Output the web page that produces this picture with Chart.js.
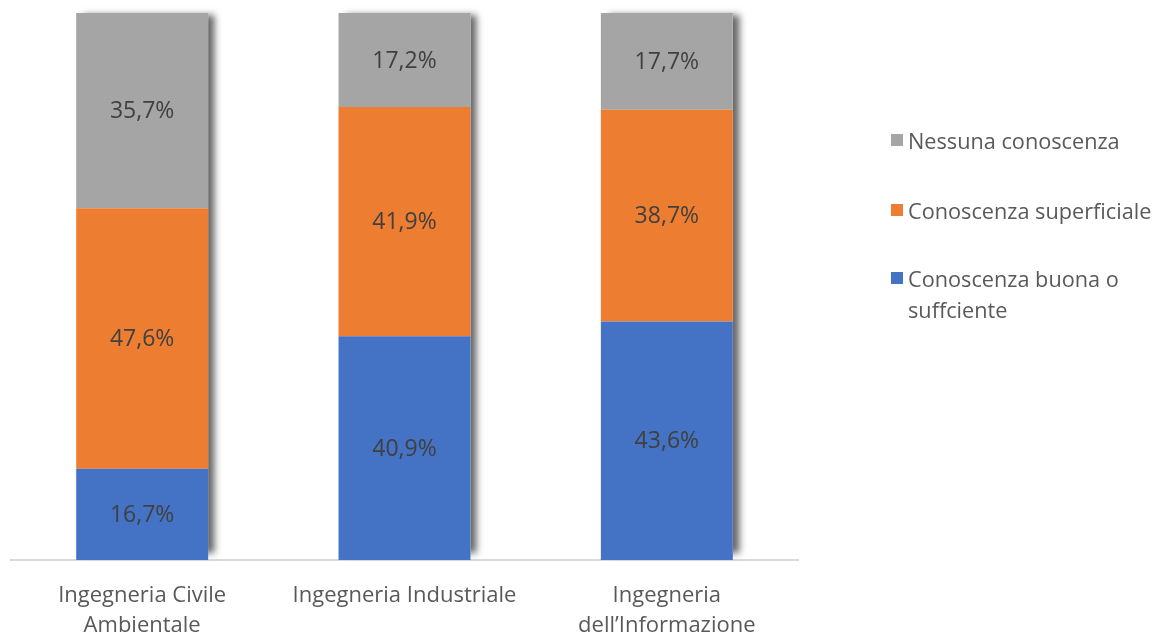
<!DOCTYPE html>
<html>
<head>
<meta charset="utf-8">
<script src="https://cdn.jsdelivr.net/npm/chart.js@4/dist/chart.umd.min.js"></script>
<style>
  html, body { margin: 0; padding: 0; background: #fff; }
  #wrap { position: relative; width: 1157px; height: 634px; overflow: hidden; }
  #legend { position: absolute; left: 891px; top: 0; font-family: "Open Sans", sans-serif; font-size: 21.7px; color: #595959; }
  .item { position: absolute; left: 0; white-space: nowrap; line-height: 31px; }
  .box { position: absolute; left: 0; width: 12px; height: 12px; }
  .txt { position: absolute; left: 17px; }
</style>
</head>
<body>
<div id="wrap">
  <canvas id="chart" width="1157" height="634"></canvas>
  <div id="legend"></div>
</div>
<script>
var categories = [['Ingegneria Civile', 'Ambientale'], 'Ingegneria Industriale', ['Ingegneria', 'dell\u2019Informazione']];
var buona = [16.7, 40.9, 43.6];
var superficiale = [47.6, 41.9, 38.7];
var nessuna = [35.7, 17.2, 17.7];
var seriesNames = [['Conoscenza buona o', 'suffciente'], 'Conoscenza superficiale', 'Nessuna conoscenza'];
var colors = ['#4472c4', '#ed7d31', '#a5a5a5'];
var legendRows = [278, 210, 140];

// shadow drawn behind each full stacked bar
var barShadow = {
    id: 'barShadow',
    beforeDatasetsDraw: function (chart) {
        var ctx = chart.ctx;
        var metas = chart.getSortedVisibleDatasetMetas();
        var n = chart.data.labels.length;
        for (var i = 0; i < n; i++) {
            var top = Infinity, bottom = -Infinity, left = 0, w = 0;
            metas.forEach(function (m) {
                var el = m.data[i];
                top = Math.min(top, el.y, el.base);
                bottom = Math.max(bottom, el.y, el.base);
                left = el.x - el.width / 2;
                w = el.width;
            });
            ctx.save();
            ctx.shadowColor = 'rgba(0,0,0,0.6)';
            ctx.shadowBlur = 7;
            ctx.shadowOffsetX = 7;
            ctx.shadowOffsetY = 0;
            ctx.fillStyle = '#fff';
            ctx.fillRect(left, top + 2, w, bottom - top - 9);
            ctx.restore();
        }
    }
};

var barLabels = {
    id: 'barLabels',
    afterDatasetsDraw: function (chart) {
        var ctx = chart.ctx;
        ctx.save();
        ctx.font = '23px "Open Sans", sans-serif';
        ctx.fillStyle = '#404040';
        ctx.textAlign = 'center';
        ctx.textBaseline = 'middle';
        chart.data.datasets.forEach(function (ds, di) {
            var meta = chart.getDatasetMeta(di);
            meta.data.forEach(function (el, i) {
                var p = el.getCenterPoint();
                ctx.fillText(ds.data[i].toFixed(1).replace('.', ',') + '%', p.x, p.y + 1);
            });
        });
        ctx.restore();
    }
};

var ctx = document.getElementById('chart').getContext('2d');
var myChart = new Chart(ctx, {
    type: 'bar',
    data: {
        labels: categories,
        datasets: [
            { label: seriesNames[0], data: buona, backgroundColor: colors[0] },
            { label: seriesNames[1], data: superficiale, backgroundColor: colors[1] },
            { label: seriesNames[2], data: nessuna, backgroundColor: colors[2] }
        ]
    },
    options: {
        responsive: false,
        animation: false,
        layout: { padding: { top: 13, left: 11, right: 359, bottom: 0 } },
        datasets: { bar: { categoryPercentage: 1, barPercentage: 0.503 } },
        scales: {
            x: {
                stacked: true,
                grid: { display: false, drawTicks: false },
                border: { display: true, color: '#d9d9d9', width: 2 },
                ticks: {
                    padding: 21,
                    color: '#595959',
                    font: { family: '"Open Sans", sans-serif', size: 22, lineHeight: 30 / 22 }
                },
                afterFit: function (scale) { scale.height = 74; }
            },
            y: {
                stacked: true,
                display: false,
                min: 0,
                max: 100
            }
        },
        plugins: {
            legend: { display: false },
            tooltip: { enabled: false }
        }
    },
    plugins: [barShadow, barLabels]
});

// legend, in reverse dataset order as in the original
var legend = document.getElementById('legend');
myChart.data.datasets.forEach(function (ds, i) {
    var lines = Array.isArray(ds.label) ? ds.label : [ds.label];
    var item = document.createElement('div');
    item.className = 'item';
    item.style.top = (legendRows[i] - 15.5) + 'px';
    var box = document.createElement('div');
    box.className = 'box';
    box.style.top = '9.5px';
    box.style.background = ds.backgroundColor;
    var txt = document.createElement('div');
    txt.className = 'txt';
    txt.innerHTML = lines.join('<br>');
    item.appendChild(box);
    item.appendChild(txt);
    legend.appendChild(item);
});
</script>
</body>
</html>
